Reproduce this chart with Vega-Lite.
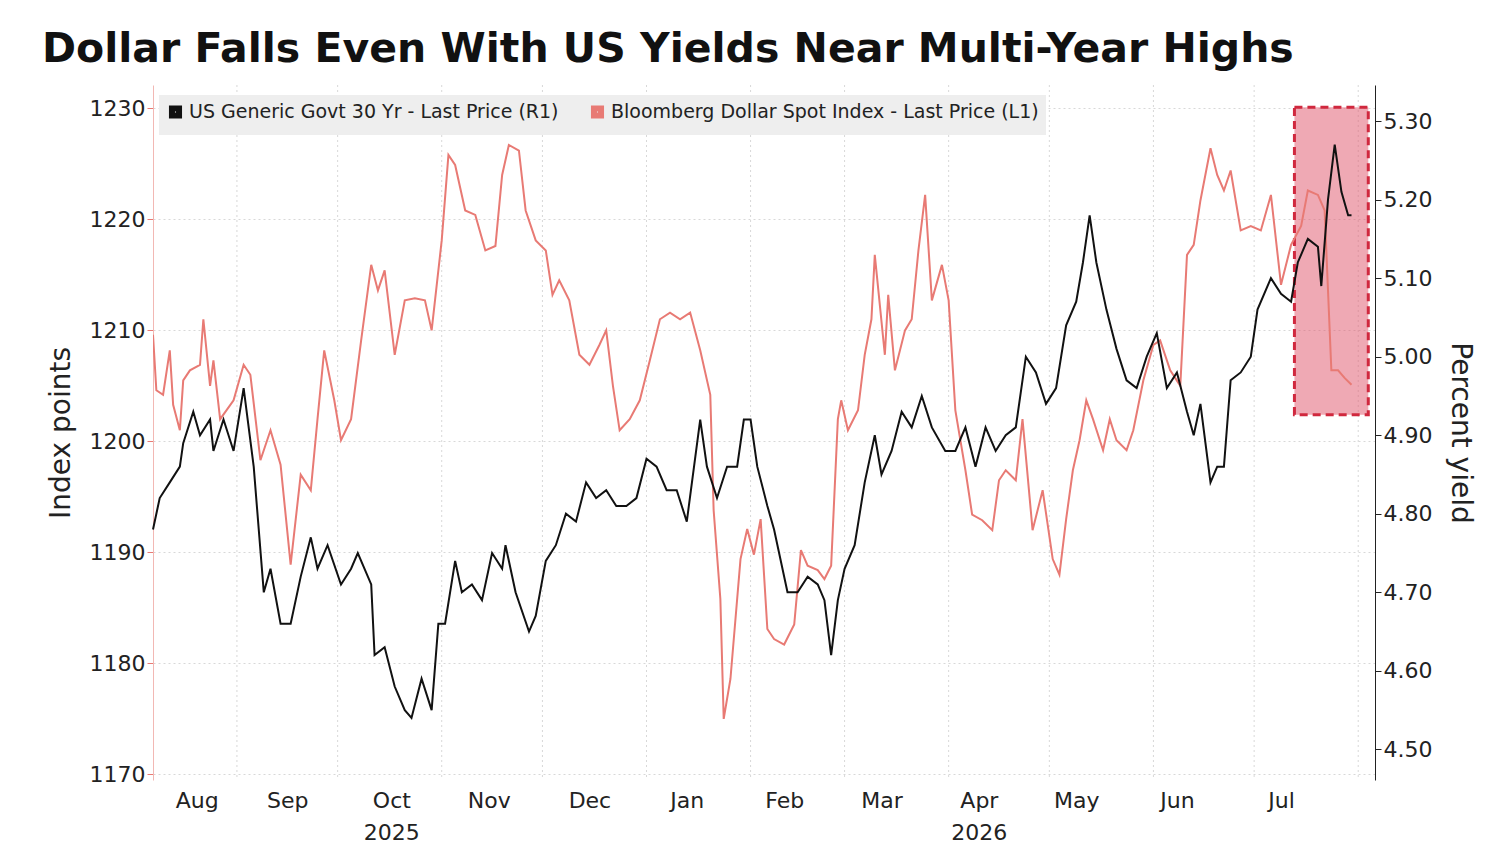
{
  "$schema": "https://vega.github.io/schema/vega-lite/v6.json",
  "width": 1222,
  "height": 695,
  "autosize": "none",
  "padding": {"left": 153, "top": 85, "right": 125, "bottom": 70},
  "background": "white",
  "config": {
    "font": "DejaVu Sans",
    "view": {"stroke": null},
    "axis": {"labelFont": "DejaVu Sans", "titleFont": "DejaVu Sans", "labelColor": "#222", "titleColor": "#222"}
  },
  "title": {
    "text": "Dollar Falls Even With US Yields Near Multi-Year Highs",
    "anchor": "start",
    "frame": "group",
    "dx": -111,
    "offset": 14,
    "font": "DejaVu Sans",
    "fontSize": 41,
    "fontWeight": "bold",
    "color": "#111"
  },
  "datasets": {
    "months": [
      {"d": "2025-09-01"}, {"d": "2025-10-01"}, {"d": "2025-11-01"}, {"d": "2025-12-01"},
      {"d": "2026-01-01"}, {"d": "2026-02-01"}, {"d": "2026-03-01"}, {"d": "2026-04-01"},
      {"d": "2026-05-01"}, {"d": "2026-06-01"}, {"d": "2026-07-01"}, {"d": "2026-08-01"}
    ],
    "box": [{"start": "2026-07-13", "end": "2026-08-04", "top": 1230.1, "bottom": 1202.4}],
    "yield": [
      {"date": "2025-08-07", "v": 4.78}, {"date": "2025-08-09", "v": 4.82}, {"date": "2025-08-12", "v": 4.84},
      {"date": "2025-08-15", "v": 4.86}, {"date": "2025-08-16", "v": 4.89}, {"date": "2025-08-19", "v": 4.93},
      {"date": "2025-08-21", "v": 4.90}, {"date": "2025-08-24", "v": 4.92}, {"date": "2025-08-25", "v": 4.88},
      {"date": "2025-08-28", "v": 4.92}, {"date": "2025-08-31", "v": 4.88}, {"date": "2025-09-03", "v": 4.96},
      {"date": "2025-09-06", "v": 4.86}, {"date": "2025-09-09", "v": 4.70}, {"date": "2025-09-11", "v": 4.73},
      {"date": "2025-09-14", "v": 4.66}, {"date": "2025-09-17", "v": 4.66}, {"date": "2025-09-20", "v": 4.72},
      {"date": "2025-09-23", "v": 4.77}, {"date": "2025-09-25", "v": 4.73}, {"date": "2025-09-28", "v": 4.76},
      {"date": "2025-10-02", "v": 4.71}, {"date": "2025-10-05", "v": 4.73}, {"date": "2025-10-07", "v": 4.75},
      {"date": "2025-10-11", "v": 4.71}, {"date": "2025-10-12", "v": 4.62}, {"date": "2025-10-15", "v": 4.63},
      {"date": "2025-10-18", "v": 4.58}, {"date": "2025-10-21", "v": 4.55}, {"date": "2025-10-23", "v": 4.54},
      {"date": "2025-10-26", "v": 4.59}, {"date": "2025-10-29", "v": 4.55}, {"date": "2025-10-31", "v": 4.66},
      {"date": "2025-11-02", "v": 4.66}, {"date": "2025-11-05", "v": 4.74}, {"date": "2025-11-07", "v": 4.70},
      {"date": "2025-11-10", "v": 4.71}, {"date": "2025-11-13", "v": 4.69}, {"date": "2025-11-16", "v": 4.75},
      {"date": "2025-11-19", "v": 4.73}, {"date": "2025-11-20", "v": 4.76}, {"date": "2025-11-23", "v": 4.70},
      {"date": "2025-11-27", "v": 4.65}, {"date": "2025-11-29", "v": 4.67}, {"date": "2025-12-02", "v": 4.74},
      {"date": "2025-12-05", "v": 4.76}, {"date": "2025-12-08", "v": 4.80}, {"date": "2025-12-11", "v": 4.79},
      {"date": "2025-12-14", "v": 4.84}, {"date": "2025-12-17", "v": 4.82}, {"date": "2025-12-20", "v": 4.83},
      {"date": "2025-12-23", "v": 4.81}, {"date": "2025-12-26", "v": 4.81}, {"date": "2025-12-29", "v": 4.82},
      {"date": "2026-01-01", "v": 4.87}, {"date": "2026-01-04", "v": 4.86}, {"date": "2026-01-07", "v": 4.83},
      {"date": "2026-01-10", "v": 4.83}, {"date": "2026-01-13", "v": 4.79}, {"date": "2026-01-17", "v": 4.92},
      {"date": "2026-01-19", "v": 4.86}, {"date": "2026-01-22", "v": 4.82}, {"date": "2026-01-25", "v": 4.86},
      {"date": "2026-01-28", "v": 4.86}, {"date": "2026-01-30", "v": 4.92}, {"date": "2026-02-01", "v": 4.92},
      {"date": "2026-02-03", "v": 4.86}, {"date": "2026-02-06", "v": 4.81}, {"date": "2026-02-08", "v": 4.78},
      {"date": "2026-02-12", "v": 4.70}, {"date": "2026-02-15", "v": 4.70}, {"date": "2026-02-18", "v": 4.72},
      {"date": "2026-02-21", "v": 4.71}, {"date": "2026-02-23", "v": 4.69}, {"date": "2026-02-25", "v": 4.62},
      {"date": "2026-02-27", "v": 4.69}, {"date": "2026-03-01", "v": 4.73}, {"date": "2026-03-04", "v": 4.76},
      {"date": "2026-03-07", "v": 4.84}, {"date": "2026-03-10", "v": 4.90}, {"date": "2026-03-12", "v": 4.85},
      {"date": "2026-03-15", "v": 4.88}, {"date": "2026-03-18", "v": 4.93}, {"date": "2026-03-21", "v": 4.91},
      {"date": "2026-03-24", "v": 4.95}, {"date": "2026-03-27", "v": 4.91}, {"date": "2026-03-31", "v": 4.88},
      {"date": "2026-04-03", "v": 4.88}, {"date": "2026-04-06", "v": 4.91}, {"date": "2026-04-09", "v": 4.86},
      {"date": "2026-04-12", "v": 4.91}, {"date": "2026-04-15", "v": 4.88}, {"date": "2026-04-18", "v": 4.90},
      {"date": "2026-04-21", "v": 4.91}, {"date": "2026-04-24", "v": 5.00}, {"date": "2026-04-27", "v": 4.98},
      {"date": "2026-04-30", "v": 4.94}, {"date": "2026-05-03", "v": 4.96}, {"date": "2026-05-06", "v": 5.04},
      {"date": "2026-05-09", "v": 5.07}, {"date": "2026-05-11", "v": 5.12}, {"date": "2026-05-13", "v": 5.18},
      {"date": "2026-05-15", "v": 5.12}, {"date": "2026-05-18", "v": 5.06}, {"date": "2026-05-21", "v": 5.01},
      {"date": "2026-05-24", "v": 4.97}, {"date": "2026-05-27", "v": 4.96}, {"date": "2026-05-30", "v": 5.00},
      {"date": "2026-06-02", "v": 5.03}, {"date": "2026-06-05", "v": 4.96}, {"date": "2026-06-08", "v": 4.98},
      {"date": "2026-06-11", "v": 4.93}, {"date": "2026-06-13", "v": 4.90}, {"date": "2026-06-15", "v": 4.94},
      {"date": "2026-06-18", "v": 4.84}, {"date": "2026-06-20", "v": 4.86}, {"date": "2026-06-22", "v": 4.86},
      {"date": "2026-06-24", "v": 4.97}, {"date": "2026-06-27", "v": 4.98}, {"date": "2026-06-30", "v": 5.00},
      {"date": "2026-07-02", "v": 5.06}, {"date": "2026-07-06", "v": 5.10}, {"date": "2026-07-09", "v": 5.08},
      {"date": "2026-07-12", "v": 5.07}, {"date": "2026-07-14", "v": 5.12}, {"date": "2026-07-17", "v": 5.15},
      {"date": "2026-07-20", "v": 5.14}, {"date": "2026-07-21", "v": 5.09}, {"date": "2026-07-23", "v": 5.20},
      {"date": "2026-07-25", "v": 5.27}, {"date": "2026-07-27", "v": 5.21}, {"date": "2026-07-29", "v": 5.18},
      {"date": "2026-07-30", "v": 5.18}
    ],
    "dollar": [
      {"date": "2025-08-07", "v": 1209.6}, {"date": "2025-08-08", "v": 1204.6}, {"date": "2025-08-10", "v": 1204.2},
      {"date": "2025-08-12", "v": 1208.2}, {"date": "2025-08-13", "v": 1203.3}, {"date": "2025-08-15", "v": 1201.0},
      {"date": "2025-08-16", "v": 1205.5}, {"date": "2025-08-18", "v": 1206.4}, {"date": "2025-08-21", "v": 1206.9},
      {"date": "2025-08-22", "v": 1211.0}, {"date": "2025-08-24", "v": 1205.0}, {"date": "2025-08-25", "v": 1207.3},
      {"date": "2025-08-27", "v": 1202.0}, {"date": "2025-08-31", "v": 1203.7}, {"date": "2025-09-03", "v": 1206.9},
      {"date": "2025-09-05", "v": 1206.0}, {"date": "2025-09-08", "v": 1198.3}, {"date": "2025-09-11", "v": 1201.0},
      {"date": "2025-09-14", "v": 1197.9}, {"date": "2025-09-17", "v": 1188.9}, {"date": "2025-09-20", "v": 1197.0},
      {"date": "2025-09-23", "v": 1195.6}, {"date": "2025-09-25", "v": 1202.0}, {"date": "2025-09-27", "v": 1208.2},
      {"date": "2025-09-30", "v": 1203.7}, {"date": "2025-10-02", "v": 1200.1}, {"date": "2025-10-05", "v": 1202.0},
      {"date": "2025-10-08", "v": 1209.1}, {"date": "2025-10-11", "v": 1215.9}, {"date": "2025-10-13", "v": 1213.6},
      {"date": "2025-10-15", "v": 1215.4}, {"date": "2025-10-18", "v": 1207.8}, {"date": "2025-10-21", "v": 1212.7},
      {"date": "2025-10-24", "v": 1212.9}, {"date": "2025-10-27", "v": 1212.7}, {"date": "2025-10-29", "v": 1210.0},
      {"date": "2025-11-01", "v": 1218.1}, {"date": "2025-11-03", "v": 1225.8}, {"date": "2025-11-05", "v": 1224.9},
      {"date": "2025-11-08", "v": 1220.8}, {"date": "2025-11-11", "v": 1220.4}, {"date": "2025-11-14", "v": 1217.2},
      {"date": "2025-11-17", "v": 1217.6}, {"date": "2025-11-19", "v": 1224.0}, {"date": "2025-11-21", "v": 1226.7},
      {"date": "2025-11-24", "v": 1226.2}, {"date": "2025-11-26", "v": 1220.8}, {"date": "2025-11-29", "v": 1218.1},
      {"date": "2025-12-02", "v": 1217.2}, {"date": "2025-12-04", "v": 1213.2}, {"date": "2025-12-06", "v": 1214.5},
      {"date": "2025-12-09", "v": 1212.7}, {"date": "2025-12-12", "v": 1207.8}, {"date": "2025-12-15", "v": 1206.9},
      {"date": "2025-12-18", "v": 1208.7}, {"date": "2025-12-20", "v": 1210.0}, {"date": "2025-12-22", "v": 1205.0},
      {"date": "2025-12-24", "v": 1201.0}, {"date": "2025-12-27", "v": 1202.0}, {"date": "2025-12-30", "v": 1203.7},
      {"date": "2026-01-02", "v": 1207.3}, {"date": "2026-01-05", "v": 1211.0}, {"date": "2026-01-08", "v": 1211.6},
      {"date": "2026-01-11", "v": 1211.0}, {"date": "2026-01-14", "v": 1211.6}, {"date": "2026-01-17", "v": 1208.2},
      {"date": "2026-01-20", "v": 1204.2}, {"date": "2026-01-21", "v": 1193.8}, {"date": "2026-01-23", "v": 1185.8},
      {"date": "2026-01-24", "v": 1175.0}, {"date": "2026-01-26", "v": 1178.6}, {"date": "2026-01-29", "v": 1189.4},
      {"date": "2026-01-31", "v": 1192.1}, {"date": "2026-02-02", "v": 1189.8}, {"date": "2026-02-04", "v": 1193.0},
      {"date": "2026-02-06", "v": 1183.1}, {"date": "2026-02-08", "v": 1182.2}, {"date": "2026-02-11", "v": 1181.7},
      {"date": "2026-02-14", "v": 1183.5}, {"date": "2026-02-16", "v": 1190.2}, {"date": "2026-02-18", "v": 1188.8},
      {"date": "2026-02-21", "v": 1188.4}, {"date": "2026-02-23", "v": 1187.6}, {"date": "2026-02-25", "v": 1188.8},
      {"date": "2026-02-27", "v": 1202.0}, {"date": "2026-02-28", "v": 1203.7}, {"date": "2026-03-02", "v": 1201.0},
      {"date": "2026-03-05", "v": 1202.8}, {"date": "2026-03-07", "v": 1207.8}, {"date": "2026-03-09", "v": 1211.0},
      {"date": "2026-03-10", "v": 1216.8}, {"date": "2026-03-13", "v": 1207.8}, {"date": "2026-03-14", "v": 1213.2},
      {"date": "2026-03-16", "v": 1206.4}, {"date": "2026-03-19", "v": 1210.0}, {"date": "2026-03-21", "v": 1211.0},
      {"date": "2026-03-23", "v": 1217.2}, {"date": "2026-03-25", "v": 1222.2}, {"date": "2026-03-27", "v": 1212.7},
      {"date": "2026-03-30", "v": 1215.9}, {"date": "2026-04-01", "v": 1212.7}, {"date": "2026-04-03", "v": 1202.8},
      {"date": "2026-04-06", "v": 1197.4}, {"date": "2026-04-08", "v": 1193.4}, {"date": "2026-04-11", "v": 1192.9},
      {"date": "2026-04-14", "v": 1192.0}, {"date": "2026-04-16", "v": 1196.5}, {"date": "2026-04-18", "v": 1197.4},
      {"date": "2026-04-21", "v": 1196.5}, {"date": "2026-04-23", "v": 1202.0}, {"date": "2026-04-26", "v": 1192.0},
      {"date": "2026-04-29", "v": 1195.6}, {"date": "2026-05-02", "v": 1189.4}, {"date": "2026-05-04", "v": 1188.0},
      {"date": "2026-05-06", "v": 1193.0}, {"date": "2026-05-08", "v": 1197.4}, {"date": "2026-05-10", "v": 1200.1},
      {"date": "2026-05-12", "v": 1203.7}, {"date": "2026-05-14", "v": 1202.0}, {"date": "2026-05-17", "v": 1199.2},
      {"date": "2026-05-19", "v": 1202.0}, {"date": "2026-05-21", "v": 1200.1}, {"date": "2026-05-24", "v": 1199.2},
      {"date": "2026-05-26", "v": 1201.0}, {"date": "2026-05-29", "v": 1205.5}, {"date": "2026-06-01", "v": 1208.7},
      {"date": "2026-06-03", "v": 1209.1}, {"date": "2026-06-06", "v": 1206.4}, {"date": "2026-06-09", "v": 1205.0},
      {"date": "2026-06-11", "v": 1216.8}, {"date": "2026-06-13", "v": 1217.7}, {"date": "2026-06-15", "v": 1221.7},
      {"date": "2026-06-18", "v": 1226.4}, {"date": "2026-06-20", "v": 1224.0}, {"date": "2026-06-22", "v": 1222.6},
      {"date": "2026-06-24", "v": 1224.4}, {"date": "2026-06-27", "v": 1219.0}, {"date": "2026-06-30", "v": 1219.4},
      {"date": "2026-07-03", "v": 1219.0}, {"date": "2026-07-06", "v": 1222.2}, {"date": "2026-07-09", "v": 1214.1},
      {"date": "2026-07-12", "v": 1217.7}, {"date": "2026-07-15", "v": 1219.4}, {"date": "2026-07-17", "v": 1222.6},
      {"date": "2026-07-20", "v": 1222.2}, {"date": "2026-07-22", "v": 1220.8}, {"date": "2026-07-24", "v": 1206.4},
      {"date": "2026-07-26", "v": 1206.4}, {"date": "2026-07-28", "v": 1205.7}, {"date": "2026-07-30", "v": 1205.1}
    ]
  },
  "layer": [
    {
      "data": {"name": "months"},
      "mark": {"type": "rule", "color": "#d8d8d8", "strokeDash": [2, 3], "strokeWidth": 1},
      "encoding": {
        "x": {
          "field": "d", "type": "temporal",
          "scale": {"domain": ["2025-08-07", "2026-08-06"]},
          "axis": {
            "values": ["2025-08-20", "2025-09-16", "2025-10-17", "2025-11-15", "2025-12-15", "2026-01-13", "2026-02-11", "2026-03-12", "2026-04-10", "2026-05-09", "2026-06-08", "2026-07-09"],
            "labelExpr": "month(datum.value) == 9 ? ['Oct', '2025'] : month(datum.value) == 3 ? ['Apr', '2026'] : timeFormat(datum.value, '%b')",
            "title": null, "grid": false, "ticks": false, "domain": false,
            "labelFontSize": 22, "labelPadding": 10, "labelLineHeight": 32
          }
        }
      }
    },
    {
      "layer": [
        {
          "data": {"name": "box"},
          "mark": {"type": "rect", "fill": "#e0546a", "fillOpacity": 0.5, "stroke": "#d0283e", "strokeWidth": 3, "strokeDash": [8, 5]},
          "encoding": {
            "x": {"field": "start", "type": "temporal"},
            "x2": {"field": "end"},
            "y": {"field": "top", "type": "quantitative", "scale": {"domain": [1169.5, 1232.1], "nice": false, "zero": false}},
            "y2": {"field": "bottom"}
          }
        },
        {
          "data": {"name": "dollar"},
          "transform": [{"calculate": "'Bloomberg Dollar Spot Index - Last Price (L1)'", "as": "series"}],
          "mark": {"type": "line", "strokeWidth": 2, "clip": true},
          "encoding": {
            "x": {"field": "date", "type": "temporal"},
            "y": {
              "field": "v", "type": "quantitative",
              "scale": {"domain": [1169.5, 1232.1], "nice": false, "zero": false},
              "axis": {
                "values": [1170, 1180, 1190, 1200, 1210, 1220, 1230], "format": "d",
                "title": "Index points", "titleFontSize": 28, "titleFontWeight": "normal", "titlePadding": 14,
                "labelFontSize": 22, "grid": true, "gridColor": "#d8d8d8", "gridDash": [2, 3],
                "domainColor": "#f2b8b4", "tickColor": "#e87a74", "tickSize": 6
              }
            },
            "color": {
              "field": "series", "type": "nominal",
              "scale": {"domain": ["US Generic Govt 30 Yr - Last Price (R1)", "Bloomberg Dollar Spot Index - Last Price (L1)"], "range": ["#111111", "#e87a74"]},
              "legend": {
                "title": null, "orient": "none", "legendX": 6, "legendY": 10, "direction": "horizontal",
                "fillColor": "#eeeeee", "padding": 7, "labelFontSize": 19, "labelColor": "#222",
                "symbolType": "square", "symbolSize": 50, "symbolStrokeWidth": 6, "symbolOpacity": 1,
                "columnPadding": 22, "labelLimit": 600
              }
            }
          }
        }
      ]
    },
    {
      "data": {"name": "yield"},
      "transform": [{"calculate": "'US Generic Govt 30 Yr - Last Price (R1)'", "as": "series"}],
      "mark": {"type": "line", "strokeWidth": 2, "color": "#111111"},
      "encoding": {
        "x": {"field": "date", "type": "temporal"},
        "y": {
          "field": "v", "type": "quantitative",
          "scale": {"domain": [4.461, 5.346], "nice": false, "zero": false},
          "axis": {
            "orient": "right", "values": [4.5, 4.6, 4.7, 4.8, 4.9, 5.0, 5.1, 5.2, 5.3], "format": ".2f",
            "title": "Percent yield", "titleAngle": 90, "titleFontSize": 28, "titleFontWeight": "normal", "titlePadding": 14,
            "labelFontSize": 22, "grid": false, "domainColor": "#222", "tickColor": "#222", "tickSize": 6
          }
        },
        "color": {"field": "series", "type": "nominal"}
      }
    }
  ],
  "resolve": {"scale": {"y": "independent"}}
}
